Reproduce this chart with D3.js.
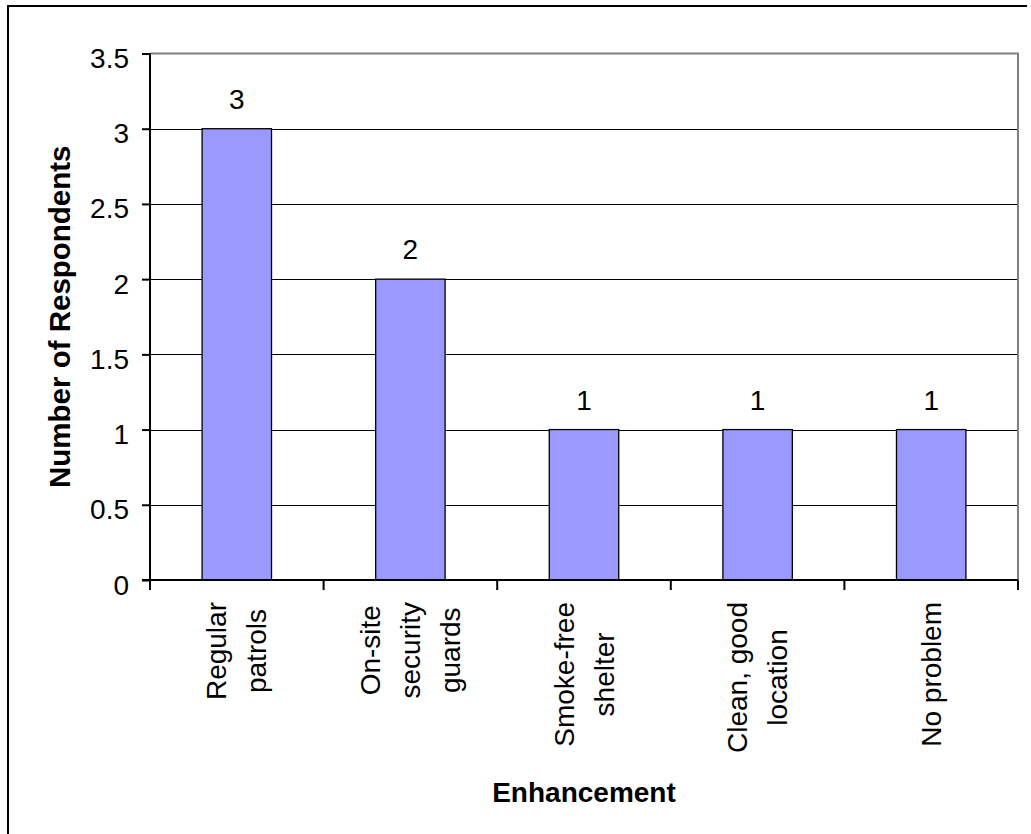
<!DOCTYPE html>
<html>
<head>
<meta charset="utf-8">
<script src="https://cdn.jsdelivr.net/npm/d3@7/dist/d3.min.js"></script>
<style>
  html, body { margin: 0; padding: 0; background: #fff; }
  svg { display: block; font-family: "Liberation Sans", Arial, sans-serif; }
</style>
</head>
<body>
<svg id="chart" width="1031" height="834"></svg>
<script>
const categories = [
  ["Regular", "patrols"],
  ["On-site", "security", "guards"],
  ["Smoke-free", "shelter"],
  ["Clean, good", "location"],
  ["No problem"]
];
const values = [3, 2, 1, 1, 1];
const yTicks = [0, 0.5, 1, 1.5, 2, 2.5, 3, 3.5];
const yTickLabels = ["0", "0.5", "1", "1.5", "2", "2.5", "3", "3.5"];
const xTitle = "Enhancement";
const yTitle = "Number of Respondents";

(function () {
const svg = d3.select("#chart");
const W = 1031, H = 834;
const pLeft = 150, pRight = 1018, pTop = 53.5, pBottom = 580;
const fs = 28;

// outer frame (top and left edges visible)
svg.append("line").attr("x1", 7).attr("x2", 1027).attr("y1", 6).attr("y2", 6)
  .attr("stroke", "#000").attr("stroke-width", 2);
svg.append("line").attr("x1", 8).attr("x2", 8).attr("y1", 5).attr("y2", H)
  .attr("stroke", "#000").attr("stroke-width", 2);

const x = d3.scaleBand().domain(d3.range(categories.length)).range([pLeft, pRight]).padding(0);
const y = d3.scaleLinear().domain([0, 3.5]).range([pBottom, pTop]);

// gridlines
svg.append("g").selectAll("line").data(yTicks.filter(t => t > 0 && t < 3.5)).join("line")
  .attr("x1", pLeft).attr("x2", pRight)
  .attr("y1", d => Math.round(y(d)) + 0.5).attr("y2", d => Math.round(y(d)) + 0.5)
  .attr("stroke", "#000").attr("stroke-width", 1);

// plot border top & right (grey)
svg.append("path")
  .attr("d", `M${pLeft},${y(3.5)}H${pRight}V${pBottom}`)
  .attr("fill", "none").attr("stroke", "#808080").attr("stroke-width", 2);

// bars
const bw = x.bandwidth() * 0.4;
svg.append("g").selectAll("rect").data(values).join("rect")
  .attr("x", (d, i) => x(i) + (x.bandwidth() - bw) / 2)
  .attr("y", d => y(d))
  .attr("width", bw)
  .attr("height", d => y(0) - y(d))
  .attr("fill", "#9999FF")
  .attr("stroke", "#000").attr("stroke-width", 1.3);

// data labels
svg.append("g").selectAll("text").data(values).join("text")
  .attr("x", (d, i) => x(i) + x.bandwidth() / 2)
  .attr("y", d => y(d) - 20)
  .attr("text-anchor", "middle")
  .attr("font-size", fs)
  .attr("fill", "#000")
  .text(d => d);

// y axis
const yAxis = d3.axisLeft(y).tickValues(yTicks).tickFormat((d, i) => yTickLabels[i]).tickSize(8).tickPadding(13);
const gy = svg.append("g").attr("transform", `translate(${pLeft},0)`).call(yAxis);
gy.select(".domain").attr("stroke", "#000").attr("stroke-width", 2).attr("d", `M0,${pTop}V${pBottom}`);
gy.selectAll(".tick line").attr("stroke", "#000").attr("stroke-width", 2);
gy.selectAll(".tick text").attr("font-size", fs).attr("font-family", "Liberation Sans, Arial, sans-serif")
  .attr("fill", "#000").attr("dy", "0.5em");

// x axis
const gx = svg.append("g").attr("transform", `translate(0,${pBottom})`);
gx.append("line").attr("x1", pLeft - 8).attr("x2", pRight).attr("y1", 0).attr("y2", 0)
  .attr("stroke", "#000").attr("stroke-width", 2);
const bounds = d3.range(categories.length + 1).map(i => i < categories.length ? x(i) : pRight);
gx.selectAll("line.tk").data(bounds).join("line").attr("class", "tk")
  .attr("x1", d => d).attr("x2", d => d).attr("y1", 0).attr("y2", 10)
  .attr("stroke", "#000").attr("stroke-width", 2);

// category labels (rotated, block top-aligned, lines centered within block)
const lineGap = 40;
const blockTop = 602;
categories.forEach((lines, i) => {
  const cx = x(i) + x.bandwidth() / 2;
  const g = svg.append("g");
  const texts = lines.map((ln, j) => {
    const lx = cx + (j - (lines.length - 1) / 2) * lineGap;
    return g.append("text")
      .attr("font-size", fs).attr("fill", "#000")
      .attr("text-anchor", "middle")
      .attr("dominant-baseline", "central")
      .attr("data-x", lx)
      .text(ln);
  });
  const maxLen = d3.max(texts, t => t.node().getComputedTextLength());
  const cy = blockTop + maxLen / 2;
  texts.forEach(t => {
    const lx = +t.attr("data-x");
    t.attr("transform", `translate(${lx},${cy}) rotate(-90)`);
  });
});

// axis titles
svg.append("text")
  .attr("x", (pLeft + pRight) / 2).attr("y", 802)
  .attr("text-anchor", "middle").attr("font-size", fs).attr("font-weight", "bold")
  .text(xTitle);
svg.append("text")
  .attr("transform", `translate(70,${(pTop + pBottom) / 2}) rotate(-90)`)
  .attr("text-anchor", "middle").attr("font-size", 29.5).attr("font-weight", "bold")
  .text(yTitle);
})();
</script>
</body>
</html>
